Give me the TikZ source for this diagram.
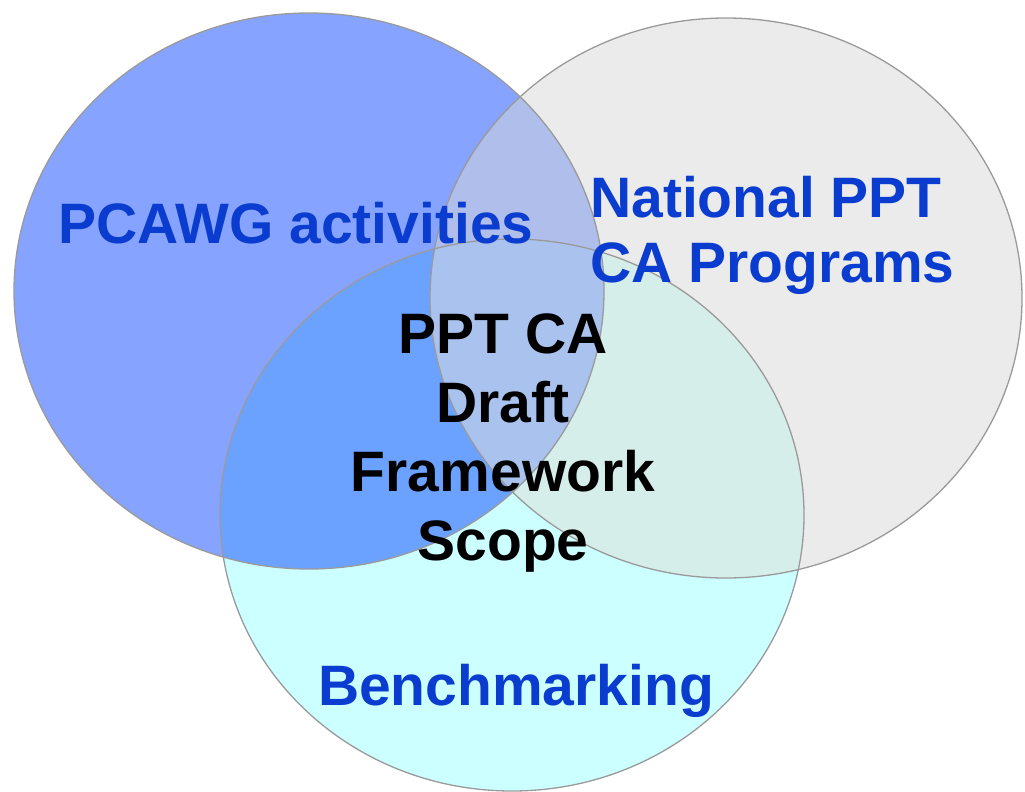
\documentclass[tikz,border=0pt]{standalone}
\usepackage{fontspec}
\setmainfont{Liberation Sans}
\definecolor{cblue}{HTML}{86A4FF}
\definecolor{cgray}{HTML}{EBEBEB}
\definecolor{ccyan}{HTML}{CCFFFF}
\definecolor{cbg}{HTML}{B0BEEB}
\definecolor{cbc}{HTML}{6CA2FF}
\definecolor{cgc}{HTML}{D6EEEA}
\definecolor{cbgc}{HTML}{A9C2EE}
\definecolor{ctext}{HTML}{0A3CCF}
\definecolor{cedge}{HTML}{9A9A9A}
\tikzset{
  edge/.style={draw=cedge, line width=1.3pt},
  lbl/.style={font=\bfseries\fontsize{57}{65}\selectfont, text=ctext, inner sep=0pt},
  mid/.style={font=\bfseries\fontsize{57}{69}\selectfont, text=black, inner sep=0pt, align=center}
}
\begin{document}
\begin{tikzpicture}[x=1pt,y=-1pt]
\useasboundingbox (0,0) rectangle (1025,792);
\fill[white] (0,0) rectangle (1025,792);
% base fills
\fill[cblue] (309,291) ellipse [x radius=295, y radius=278];
\fill[cgray] (726,298) ellipse [x radius=296, y radius=280];
\fill[ccyan] (512,515) ellipse [x radius=292, y radius=276];
% pairwise overlaps
\begin{scope}
  \clip (309,291) ellipse [x radius=295, y radius=278];
  \fill[cbg] (726,298) ellipse [x radius=296, y radius=280];
  \fill[cbc] (512,515) ellipse [x radius=292, y radius=276];
\end{scope}
\begin{scope}
  \clip (726,298) ellipse [x radius=296, y radius=280];
  \fill[cgc] (512,515) ellipse [x radius=292, y radius=276];
  \clip (309,291) ellipse [x radius=295, y radius=278];
  \fill[cbgc] (512,515) ellipse [x radius=292, y radius=276];
\end{scope}
% outlines
\draw[edge] (309,291) ellipse [x radius=295, y radius=278];
\draw[edge] (726,298) ellipse [x radius=296, y radius=280];
\draw[edge] (512,515) ellipse [x radius=292, y radius=276];
% labels
\node[lbl, anchor=base] (pcawg) at (296,243) {PCAWG activities};
\node[lbl, anchor=base west, align=left] (national) at (590,282) {National PPT\\CA Programs};
\node[lbl, anchor=base] (bench) at (516,705) {Benchmarking};
\node[mid, anchor=base] (center) at (503,560) {PPT CA\\Draft\\Framework\\Scope};
\end{tikzpicture}
\end{document}
